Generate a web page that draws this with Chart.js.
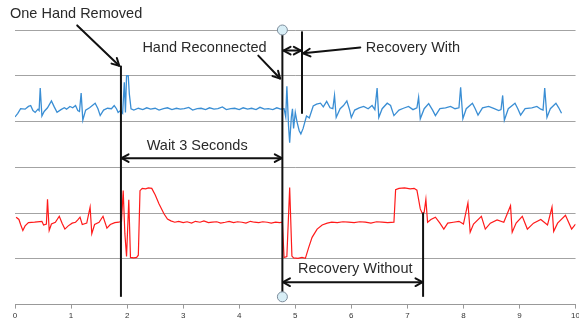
<!DOCTYPE html>
<html>
<head>
<meta charset="utf-8">
<script src="https://cdn.jsdelivr.net/npm/chart.js@4.4.1/dist/chart.umd.min.js"></script>
<style>
  html, body { margin: 0; padding: 0; background: #fff; overflow: hidden; }
  #ecgChart { display: block; }
</style>
</head>
<body>
<canvas id="ecgChart" width="582" height="337" style="width:582px;height:337px"></canvas>
<script>
// upper trace (with hand reconnect), time in s / arbitrary units
const blueT = [0.00,0.05,0.10,0.18,0.24,0.28,0.32,0.36,0.41,0.43,0.45,0.48,0.52,0.58,0.65,0.70,0.75,0.82,0.88,0.92,0.98,1.03,1.08,1.12,1.15,1.18,1.21,1.26,1.33,1.43,1.48,1.52,1.58,1.65,1.72,1.77,1.81,1.84,1.88,1.92,1.95,1.97,1.99,2.02,2.04,2.07,2.12,2.20,2.28,2.35,2.42,2.50,2.57,2.65,2.72,2.80,2.88,2.95,3.02,3.10,3.17,3.25,3.32,3.40,3.47,3.55,3.62,3.70,3.77,3.85,3.92,4.00,4.07,4.15,4.22,4.30,4.37,4.45,4.52,4.60,4.67,4.74,4.80,4.83,4.85,4.88,4.90,4.93,4.95,4.97,5.00,5.03,5.07,5.10,5.14,5.20,5.25,5.32,5.38,5.45,5.50,5.56,5.62,5.67,5.70,5.73,5.80,5.86,5.92,5.97,6.00,6.06,6.14,6.22,6.30,6.37,6.42,6.46,6.49,6.55,6.64,6.70,6.76,6.85,6.93,7.02,7.10,7.17,7.20,7.23,7.30,7.38,7.45,7.50,7.58,7.68,7.77,7.85,7.92,7.95,7.99,8.05,8.16,8.21,8.26,8.34,8.45,8.55,8.63,8.67,8.70,8.73,8.80,8.92,8.97,9.02,9.10,9.22,9.31,9.38,9.42,9.45,9.49,9.55,9.65,9.70,9.75];
const blueV = [4.10,4.18,4.28,4.27,4.33,4.35,4.24,4.20,4.27,4.24,4.73,4.12,4.22,4.30,4.45,4.32,4.20,4.26,4.30,4.27,4.33,4.30,4.35,4.24,4.22,4.62,4.03,4.25,4.30,4.40,4.28,4.13,4.25,4.29,4.28,4.35,4.28,4.20,4.24,4.18,4.86,4.20,5.00,5.00,4.60,4.28,4.25,4.29,4.26,4.30,4.27,4.29,4.25,4.28,4.30,4.26,4.29,4.27,4.28,4.31,4.25,4.28,4.29,4.26,4.30,4.27,4.28,4.32,4.26,4.28,4.29,4.26,4.30,4.27,4.29,4.26,4.31,4.27,4.28,4.26,4.30,4.27,4.28,4.10,4.77,3.90,3.54,4.10,4.28,3.85,4.20,4.00,3.80,3.73,3.85,4.12,4.08,4.34,4.38,4.40,4.32,4.44,4.30,4.28,4.57,4.09,4.28,4.35,4.45,4.25,4.09,4.25,4.30,4.33,4.28,4.35,4.26,4.73,4.09,4.28,4.40,4.35,4.13,4.25,4.29,4.33,4.26,4.30,4.53,4.06,4.28,4.39,4.25,4.13,4.28,4.30,4.33,4.28,4.30,4.75,4.06,4.28,4.40,4.28,4.14,4.30,4.33,4.28,4.24,4.26,4.57,4.03,4.28,4.40,4.28,4.14,4.28,4.30,4.33,4.27,4.25,4.73,4.09,4.28,4.40,4.30,4.18];

// lower trace (without)
const redT = [0.02,0.07,0.10,0.14,0.18,0.24,0.35,0.48,0.51,0.56,0.58,0.61,0.65,0.72,0.79,0.84,0.89,0.95,1.02,1.08,1.12,1.16,1.20,1.28,1.34,1.37,1.42,1.50,1.57,1.64,1.70,1.78,1.85,1.90,1.93,1.96,1.99,2.03,2.06,2.12,2.17,2.20,2.23,2.27,2.33,2.38,2.44,2.50,2.57,2.66,2.72,2.78,2.85,2.92,3.00,3.07,3.15,3.22,3.30,3.37,3.45,3.52,3.60,3.67,3.75,3.82,3.90,3.97,4.05,4.12,4.20,4.27,4.35,4.42,4.50,4.57,4.65,4.72,4.77,4.80,4.85,4.90,4.94,4.97,5.05,5.12,5.18,5.24,5.30,5.39,5.48,5.57,5.65,5.75,5.85,5.95,6.05,6.15,6.25,6.35,6.45,6.55,6.65,6.76,6.79,6.85,6.95,7.05,7.12,7.17,7.20,7.23,7.27,7.30,7.33,7.36,7.42,7.50,7.58,7.65,7.72,7.82,7.92,8.00,8.08,8.12,8.18,8.32,8.39,8.48,8.60,8.72,8.84,8.87,8.94,9.05,9.14,9.25,9.38,9.50,9.58,9.61,9.68,9.82,9.93,10.0];
const redV = [1.91,1.86,1.75,1.62,1.72,1.79,1.80,1.82,1.74,1.76,2.30,1.62,1.76,1.80,1.93,1.78,1.65,1.72,1.78,1.80,1.85,1.91,1.75,1.78,2.13,1.55,1.75,1.80,1.93,1.67,1.75,1.79,1.80,1.82,2.49,1.55,1.05,2.29,1.03,1.02,1.03,1.08,2.49,2.54,2.53,2.55,2.54,2.40,2.20,1.98,1.87,1.83,1.80,1.82,1.79,1.81,1.78,1.82,1.80,1.83,1.79,1.80,1.81,1.78,1.80,1.82,1.79,1.81,1.80,1.78,1.82,1.80,1.79,1.81,1.80,1.78,1.80,1.79,1.80,1.03,1.05,2.56,1.06,1.02,1.01,1.03,1.01,1.25,1.47,1.65,1.74,1.78,1.80,1.79,1.81,1.80,1.79,1.81,1.80,1.78,1.81,1.80,1.79,1.80,2.51,2.54,2.55,2.53,2.54,2.50,2.30,2.09,1.98,2.02,2.30,1.80,1.86,1.91,1.78,1.65,1.78,1.80,1.82,1.76,2.22,1.58,1.76,1.93,1.65,1.78,1.85,1.80,2.16,1.58,1.78,1.93,1.65,1.78,1.86,1.74,2.13,1.60,1.78,1.95,1.65,1.76];

const xTicks = [0,1,2,3,4,5,6,7,8,9,10];

// event markers: time, top, bottom
const markerT = [1.89, 4.77, 5.12, 7.28];
const markerTop = [5.22, 6.0, 5.97, 2.01];
const markerBottom = [0.17, 0.17, 4.17, 0.17];
const circleT = [4.77, 4.77];
const circleV = [6.0, 0.17];

// arrows (data coords) and labels
const arrows = [
  { from: [1.11, 6.10], to: [1.86, 5.22], both: false },
  { from: [4.34, 5.44], to: [4.73, 4.94], both: false },
  { from: [6.16, 5.62], to: [5.14, 5.49], both: false },
  { from: [4.79, 5.55], to: [5.10, 5.55], both: true },
  { from: [1.90, 3.20], to: [4.76, 3.20], both: true },
  { from: [4.78, 0.49], to: [7.27, 0.49], both: true }
];
const noteText = ["One Hand Removed", "Hand Reconnected", "Recovery With", "Wait 3 Seconds", "Recovery Without"];
const noteT = [1.09, 3.38, 7.10, 3.25, 6.07];
const noteV = [6.34, 5.60, 5.60, 3.46, 0.78];

function drawHead(ctx, x1, y1, x2, y2) {
  const ang = Math.atan2(y2 - y1, x2 - x1);
  const len = 8, spread = 0.5;
  ctx.beginPath();
  ctx.moveTo(x2 - len * Math.cos(ang - spread), y2 - len * Math.sin(ang - spread));
  ctx.lineTo(x2, y2);
  ctx.lineTo(x2 - len * Math.cos(ang + spread), y2 - len * Math.sin(ang + spread));
  ctx.stroke();
}

// draws the arrows + text on top
const notesPlugin = {
  id: 'ecgNotes',
  afterDatasetsDraw(chart) {
    const ctx = chart.ctx;
    const xs = chart.scales.x, ys = chart.scales.y;
    ctx.save();
    ctx.strokeStyle = '#111';
    ctx.lineWidth = 2;
    ctx.lineCap = 'round';
    ctx.lineJoin = 'round';
    arrows.forEach(a => {
      const x1 = xs.getPixelForValue(a.from[0]), y1 = ys.getPixelForValue(a.from[1]);
      const x2 = xs.getPixelForValue(a.to[0]), y2 = ys.getPixelForValue(a.to[1]);
      ctx.beginPath();
      ctx.moveTo(x1, y1);
      ctx.lineTo(x2, y2);
      ctx.stroke();
      drawHead(ctx, x1, y1, x2, y2);
      if (a.both) drawHead(ctx, x2, y2, x1, y1);
    });
    ctx.fillStyle = '#2a2a2a';
    ctx.font = '14.5px "Liberation Sans", Arial, sans-serif';
    ctx.textAlign = 'center';
    ctx.textBaseline = 'middle';
    noteText.forEach((txt, i) => {
      ctx.fillText(txt, xs.getPixelForValue(noteT[i]), ys.getPixelForValue(noteV[i]));
    });
    ctx.restore();
  }
};

const datasets = [];
markerT.forEach((t, i) => {
  datasets.push({
    data: [{ x: t, y: markerBottom[i] }, { x: t, y: markerTop[i] }],
    borderColor: '#111',
    borderWidth: 2,
    pointRadius: 0,
    order: 1,
    clip: false
  });
});
datasets.push({
  data: circleT.map((t, i) => ({ x: t, y: circleV[i] })),
  showLine: false,
  pointRadius: 5,
  pointBackgroundColor: '#d8eef6',
  pointBorderColor: '#7d8d9c',
  pointBorderWidth: 1,
  order: 0,
  clip: false
});
datasets.push({
  data: blueT.map((t, i) => ({ x: t, y: blueV[i] })),
  borderColor: '#3a8ed4',
  borderWidth: 1.3,
  pointRadius: 0,
  order: 2
});
datasets.push({
  data: redT.map((t, i) => ({ x: t, y: redV[i] })),
  borderColor: '#ff1a1a',
  borderWidth: 1.2,
  pointRadius: 0,
  order: 2
});

const ctx = document.getElementById('ecgChart').getContext('2d');
const ecgChart = new Chart(ctx, {
  type: 'line',
  data: { datasets: datasets },
  options: {
    responsive: false,
    animation: false,
    layout: { padding: { left: 15, right: 0, top: 30, bottom: 0 } },
    plugins: {
      legend: { display: false },
      tooltip: { enabled: false }
    },
    scales: {
      x: {
        type: 'linear',
        min: 0,
        max: 10,
        afterBuildTicks: axis => { axis.ticks = xTicks.map(v => ({ value: v })); },
        grid: { drawOnChartArea: false, drawTicks: true, tickLength: 4, color: '#999' },
        border: { color: '#999', width: 1 },
        ticks: { color: '#333', padding: 2, font: { size: 8, family: '"Liberation Sans", Arial' } },
        title: { display: true, text: 'Time (s)', color: '#333', padding: { top: 0, bottom: 4 }, font: { size: 9, family: '"Liberation Sans", Arial' } }
      },
      y: {
        min: 0,
        max: 6,
        ticks: { display: false, stepSize: 1 },
        grid: { color: '#a3a3a3', lineWidth: 1, drawTicks: false },
        border: { display: false }
      }
    }
  },
  plugins: [notesPlugin]
});
</script>
</body>
</html>
